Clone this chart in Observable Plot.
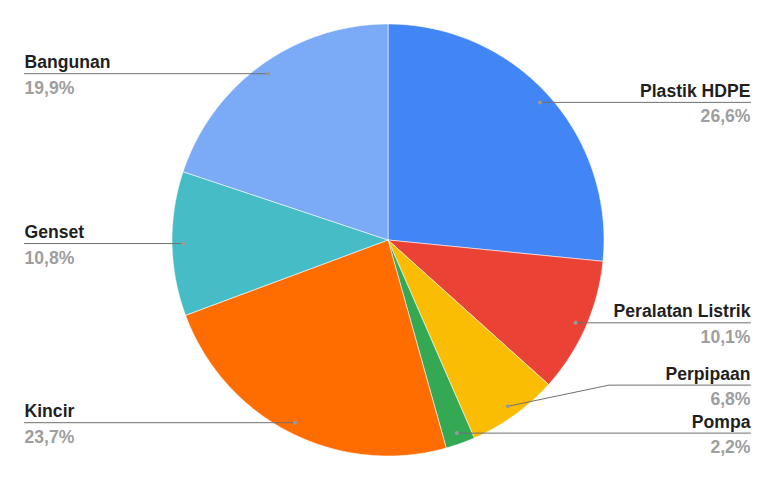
<!DOCTYPE html>
<html>
<head>
<meta charset="utf-8">
<script src="https://cdn.jsdelivr.net/npm/d3@7"></script>
<script src="https://cdn.jsdelivr.net/npm/@observablehq/plot@0.6"></script>
<style>
  html, body { margin: 0; padding: 0; background: #fff; }
</style>
</head>
<body>
<div id="chart"></div>
<script>
// Komposisi biaya investasi (persen)
const categories = ["Plastik HDPE", "Peralatan Listrik", "Perpipaan", "Pompa", "Kincir", "Genset", "Bangunan"];
const values = [26.6, 10.1, 6.8, 2.2, 23.7, 10.8, 19.9];
const colors = ["#4285F4", "#EA4335", "#FBBC04", "#34A853", "#FF6D01", "#46BDC6", "#7BAAF7"];

const W = 775, H = 479;
const cx = 387.5, cy = 239.5, R = 216;   // pie centre and radius
const dotR = 205;                          // where leader lines start
const leftX = 24, rightX = 750;            // label columns
const minGap = 48;                         // vertical room for one label block

const total = d3.sum(values);

// Slices: clockwise from 12 o'clock
const slices = [];
let acc = 0;
categories.forEach((name, i) => {
  const a0 = acc / total * 2 * Math.PI;
  acc += values[i];
  const a1 = acc / total * 2 * Math.PI;
  slices.push({name, value: values[i], a0, a1, mid: (a0 + a1) / 2});
});

const polyPoints = [];
for (const s of slices) {
  polyPoints.push({name: s.name, x: cx, y: cy});
  const n = Math.max(2, Math.ceil((s.a1 - s.a0) / (Math.PI / 180)));
  for (let k = 0; k <= n; k++) {
    const a = s.a0 + (s.a1 - s.a0) * k / n;
    polyPoints.push({name: s.name, x: cx + R * Math.sin(a), y: cy - R * Math.cos(a)});
  }
  polyPoints.push({name: s.name, x: cx, y: cy});
}

// Label anchors, pushed upward when they would overlap on the same side
const labels = slices.map(s => {
  const dx = cx + dotR * Math.sin(s.mid), dy = cy - dotR * Math.cos(s.mid);
  const side = Math.sin(s.mid) >= 0 ? "right" : "left";
  return {name: s.name, value: s.value, dx, dy, side, ly: dy};
});
for (const side of ["left", "right"]) {
  const group = labels.filter(l => l.side === side).sort((a, b) => b.dy - a.dy);
  let prev = Infinity;
  for (const l of group) {
    l.ly = Math.min(l.dy, prev - minGap);
    prev = l.ly;
  }
}

const leaders = [];
for (const l of labels) {
  const endX = l.side === "right" ? rightX : leftX;
  leaders.push({name: l.name, x: l.dx, y: l.dy});
  if (Math.abs(l.ly - l.dy) > 1) {
    const elbowX = l.side === "right" ? cx + R + 5 : cx - R - 5;
    leaders.push({name: l.name, x: elbowX, y: l.ly});
  }
  leaders.push({name: l.name, x: endX, y: l.ly});
}

const fmt = v => v.toFixed(1).replace(".", ",") + "%";
const font = "Liberation Sans, Arial, sans-serif";
const rightLabels = labels.filter(l => l.side === "right");
const leftLabels = labels.filter(l => l.side === "left");

// Category name above the leader line, percentage below it
const labelMarks = (data, x, anchor) => [
  Plot.text(data, {
    x: () => x, y: l => l.ly - 5.5, text: "name",
    textAnchor: anchor, lineAnchor: "bottom",
    fontSize: 17.6, fontWeight: "bold", fill: "#1f1f1f"
  }),
  Plot.text(data, {
    x: () => x, y: l => l.ly + 20, text: l => fmt(l.value),
    textAnchor: anchor, lineAnchor: "bottom",
    fontSize: 17.6, fontWeight: "bold", fill: "#9e9e9e"
  })
];

const chart = Plot.plot({
  width: W,
  height: H,
  margin: 0,
  x: {domain: [0, W], range: [0, W], axis: null},
  y: {domain: [0, H], range: [0, H], axis: null},
  color: {domain: categories, range: colors},
  style: {background: "#fff", fontFamily: font},
  marks: [
    Plot.line(polyPoints, {x: "x", y: "y", z: "name", fill: "name", stroke: "#fff", strokeWidth: 0.8, strokeOpacity: 0.7, curve: "linear"}),
    Plot.line(leaders, {x: "x", y: "y", z: "name", stroke: "#707070", strokeWidth: 1}),
    Plot.dot(labels, {x: "dx", y: "dy", r: 2, fill: "#9a9a9a", stroke: null}),
    ...labelMarks(rightLabels, rightX, "end"),
    ...labelMarks(leftLabels, leftX, "start")
  ]
});

document.getElementById("chart").appendChild(chart);
</script>
</body>
</html>
